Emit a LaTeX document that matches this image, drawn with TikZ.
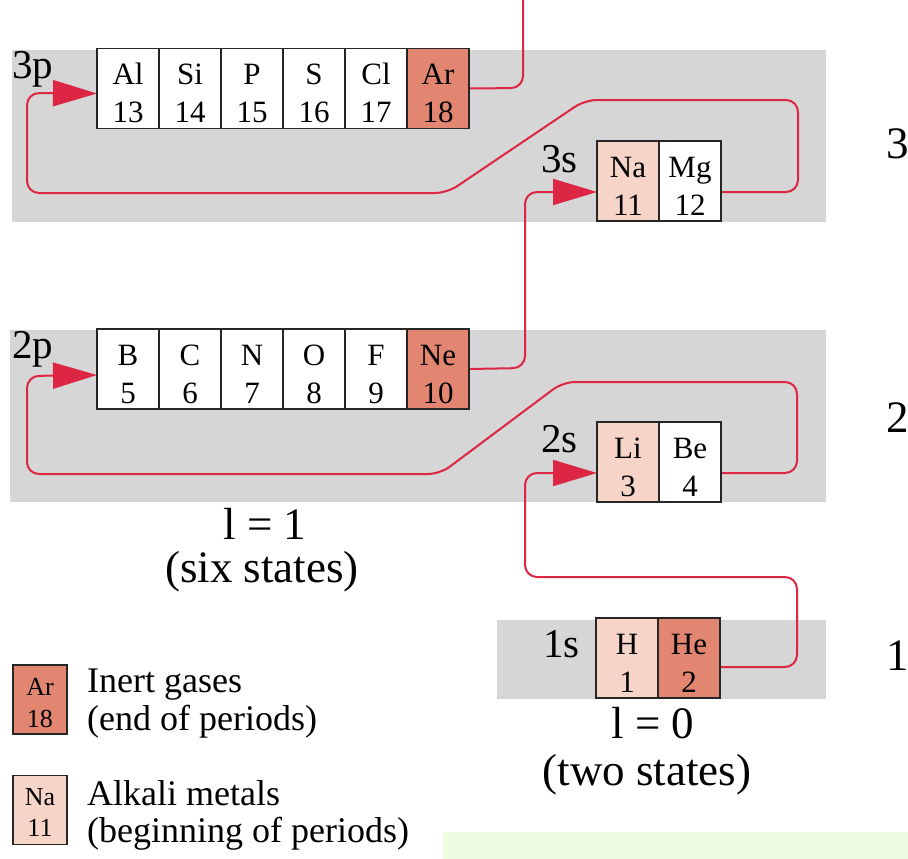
\documentclass[tikz,border=0pt]{standalone}
\usepackage{fontspec}
\setmainfont{Liberation Serif}
\usetikzlibrary{arrows.meta}

\definecolor{bandgray}{RGB}{214,214,214}
\definecolor{inert}{RGB}{226,134,113}
\definecolor{alkali}{RGB}{247,212,200}
\definecolor{linkred}{RGB}{220,38,68}
\definecolor{paleg}{RGB}{238,252,226}

\newcommand\cellfont{\fontsize{31}{34}\selectfont}
\newcommand\legfont{\fontsize{26}{29}\selectfont}
\newcommand\shellfont{\fontsize{41}{45}\selectfont}
\newcommand\bigfont{\fontsize{45}{50}\selectfont}
\newcommand\notefont{\fontsize{36}{40}\selectfont}

\begin{document}
\begin{tikzpicture}[x=1pt,y=-1pt,
  band/.style={fill=bandgray, draw=none},
  cell/.style={draw=black!85, line width=1.8pt, minimum width=62pt,
    minimum height=80pt, inner sep=0pt, outer sep=0pt},
  legcell/.style={draw=black!85, line width=1.6pt, minimum width=54pt,
    minimum height=69pt, inner sep=0pt, outer sep=0pt},
  sym/.style={anchor=base, font=\cellfont, inner sep=0pt},
  legsym/.style={anchor=base, font=\legfont, inner sep=0pt},
  shell/.style={anchor=base west, font=\shellfont, inner sep=0pt},
  note/.style={anchor=base west, font=\notefont, inner sep=0pt},
  big/.style={anchor=base, font=\bigfont, inner sep=0pt},
  link/.style={draw=linkred, line width=2pt, rounded corners=12pt},
  tip/.style={-{Triangle[length=44pt,width=26pt]}}
]
\useasboundingbox (0,0) rectangle (908,859);

% shaded shells
\fill[band] (12,50) rectangle (826,222);
\fill[band] (10,330) rectangle (826,502);
\fill[band] (497,620) rectangle (826,699);
\fill[paleg] (443,832) rectangle (908,859);

% cells: n = 3
\foreach \s [count=\i from 0] in {Al,Si,P,S,Cl}
  \node[cell, fill=white] (\s) at ({128+62*\i},88.5) {};
\node[cell, fill=inert] (Ar) at (438,88.5) {};
\node[cell, fill=alkali] (Na) at (628,181) {};
\node[cell, fill=white] (Mg) at (690,181) {};

% cells: n = 2
\foreach \s [count=\i from 0] in {B,C,N,O,F}
  \node[cell, fill=white] (\s) at ({128+62*\i},369) {};
\node[cell, fill=inert] (Ne) at (438,369) {};
\node[cell, fill=alkali] (Li) at (628,462) {};
\node[cell, fill=white] (Be) at (690,462) {};

% cells: n = 1
\node[cell, fill=alkali] (H) at (627,658) {};
\node[cell, fill=inert] (He) at (689,658) {};

% filling order
\coordinate (up4) at (523,0);
\draw[link] (Ar.east) -- (523,88) -- (up4);
\draw[link, tip] ([yshift=-11pt]Mg.east) -- (798,192) -- (798,100) -- (585,100)
  -- (447,193) -- (27,193) -- (27,93) -- ([yshift=-5pt]Al.west);
\draw[link, tip] (Ne.east) -- (525,368) -- (525,192) -- ([yshift=-11pt]Na.west);
\draw[link, tip] ([yshift=-11pt]Be.east) -- (797,473) -- (797,382) -- (563,382)
  -- (440,474) -- (27,474) -- (27,376) -- ([yshift=-6pt]B.west);
\draw[link, tip] ([yshift=-9pt]He.east) -- (797,667) -- (797,577) -- (525,577)
  -- (525,473) -- ([yshift=-11pt]Li.west);

% cell borders above the connectors, and the cell texts
\foreach \s/\n in {Al/13,Si/14,P/15,S/16,Cl/17,Ar/18,Na/11,Mg/12,
                   B/5,C/6,N/7,O/8,F/9,Ne/10,Li/3,Be/4,H/1,He/2} {
  \draw[draw=black!85, line width=1.8pt] (\s.north west) rectangle (\s.south east);
  \node[sym] at ([yshift=-36pt]\s.north) {\s};
  \node[sym] at ([yshift=-74pt]\s.north) {\n};
}

% subshell labels
\node[shell] (l3p) at (12,78) {3p};
\node[shell] (l2p) at (12,358) {2p};
\node[shell] (l3s) at (541,172) {3s};
\node[shell] (l2s) at (541,452) {2s};
\node[shell] (l1s) at (543,657) {1s};

% shell numbers
\node[big, anchor=base west] (n3) at (886,158) {3};
\node[big, anchor=base west] (n2) at (886,432) {2};
\node[big, anchor=base west] (n1) at (886,670) {1};

% orbital quantum numbers
\node[big] (l1) at (265,539) {l = 1};
\node[big] (six) at (262,582) {(six states)};
\node[big] (l0) at (653,738) {l = 0};
\node[big] (two) at (647,785) {(two states)};

% legend
\node[legcell, fill=inert] (kAr) at (40,699.5) {};
\node[legsym] at ([yshift=-30pt]kAr.north) {Ar};
\node[legsym] at ([yshift=-62pt]kAr.north) {18};
\node[legcell, fill=alkali] (kNa) at (40,810) {};
\node[legsym] at ([yshift=-30pt]kNa.north) {Na};
\node[legsym] at ([yshift=-61pt]kNa.north) {11};
\node[note] (t1) at (87,692) {Inert gases};
\node[note] (t2) at (87,730) {(end of periods)};
\node[note] (t3) at (87,805) {Alkali metals};
\node[note] (t4) at (87,842) {(beginning of periods)};
\end{tikzpicture}
\end{document}
